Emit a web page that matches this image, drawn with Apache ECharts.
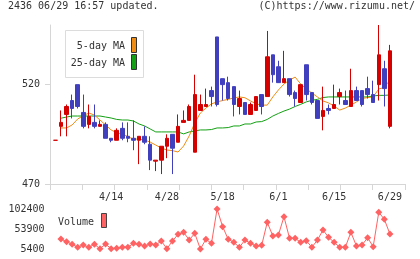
<!DOCTYPE html>
<html>
<head>
<meta charset="utf-8">
<script src="https://cdn.jsdelivr.net/npm/echarts@6/dist/echarts.min.js"></script>
<style>
  html, body { margin: 0; padding: 0; background: #fff; }
  #chart { width: 420px; height: 259px; }
</style>
</head>
<body>
<div id="chart"></div>
<script>
// trading days 3/31 .. 6/29
const dates = [
  '3/31', '4/1', '4/2', '4/3', '4/6', '4/7', '4/8', '4/9', '4/10', '4/13',
  '4/14', '4/15', '4/16', '4/17', '4/20', '4/21', '4/22', '4/23', '4/24', '4/27',
  '4/28', '4/30', '5/1', '5/7', '5/8', '5/11', '5/12', '5/13', '5/14', '5/15',
  '5/18', '5/19', '5/20', '5/21', '5/22', '5/25', '5/26', '5/27', '5/28', '5/29',
  '6/1', '6/2', '6/3', '6/4', '6/5', '6/8', '6/9', '6/10', '6/11', '6/12',
  '6/15', '6/16', '6/17', '6/18', '6/19', '6/22', '6/23', '6/24', '6/25', '6/26',
  '6/29'
];

const opens = [
  492, 499, 505, 512, 520, 506, 500, 501, 499, 500,
  493, 492, 498, 494, 493, 492, 494, 490, 481.5, 482,
  489, 495, 491, 501, 502, 486, 507, 509, 517, 544,
  523, 521, 519, 509, 511, 505, 507, 515, 514, 535,
  529, 521, 523, 516, 511, 530, 516, 512, 504, 508,
  508, 514, 512, 509, 517, 517, 518, 515, 520, 528,
  499
];
const closes = [
  492, 501, 509, 508, 509, 499, 504, 499, 500, 493,
  492, 497, 493, 493, 492, 494, 491, 482, 482, 489,
  493, 488, 499, 502, 509, 515, 510, 510, 514, 510,
  520, 513, 510, 513, 505, 510, 514, 509, 534, 525,
  521, 523, 515, 513, 520, 515, 511, 503, 507, 507,
  510, 516, 510, 517, 512, 510, 515, 511, 535, 518,
  537
];
const lows = [
  492, 494, 494, 503, 508, 498, 498, 498, 499, 493,
  491, 492, 492, 491, 487, 480, 490, 477, 476.5, 475,
  483, 475, 491, 501, 502, 486, 507, 509, 509, 509,
  512, 512, 504, 505, 505, 505, 507, 505, 514, 521,
  521, 521, 514, 509, 511, 512, 510, 503, 497, 505,
  508, 510, 510, 509, 512, 509, 513, 511, 512, 509,
  498
];
const highs = [
  492, 507, 510, 515, 520, 515, 510, 510, 502, 501,
  493, 498, 501, 501, 502, 494, 499, 494, 482, 489,
  495, 495, 505, 507, 510, 525, 515, 518, 519, 544,
  523, 524, 519, 517, 511, 511, 514, 515, 547, 535,
  532, 537, 523, 517, 520, 530, 516, 512, 519, 510,
  520, 518, 517, 528, 519, 517, 524, 522, 550, 532,
  540
];

const ma5 = [
  null, 498.2, 498.2, 499.7, 502.7, 504.4, 505.7, 504.7, 502.2, 499.7,
  497.2, 495.7, 495.2, 493.8, 492.6, 492.6, 492.1, 491.1, 489.6, 488.1,
  487.1, 486.8, 486.1, 489.1, 494.2, 500.7, 505.7, 508.2, 510.3, 511.3,
  512.0, 512.6, 513.3, 513.8, 513.4, 511.8, 510.3, 509.7, 509.7, 513.8,
  517.3, 520.3, 522.3, 523.8, 520.3, 517.8, 515.8, 513.8, 511.8, 510.8,
  509.2, 507.2, 508.2, 509.7, 511.3, 513.0, 513.5, 513.8, 517.8, 518.6,
  522.3
];
const ma25 = [
  null, 503.1, 503.7, 504.2, 504.2, 504.2, 504.2, 504.2, 504.2, 503.7,
  503.2, 502.5, 502.2, 502.2, 501.7, 500.2, 499.2, 497.7, 496.2, 496.2,
  496.2, 496.2, 496.2, 495.2, 496.2, 496.7, 497.2, 497.2, 497.4, 498.2,
  498.2, 498.4, 499.2, 499.2, 500.2, 500.2, 501.2, 501.4, 502.5, 504.2,
  505.5, 506.7, 507.7, 509.0, 510.1, 511.3, 512.1, 512.6, 513.5, 513.8,
  513.8, 513.8, 513.8, 513.8, 513.8, 513.8, 513.8, 514.3, 514.6, 514.6,
  514.8
];

const volumes = [
  null, 29650, 23100, 16800, 9500, 15100, 9500, 16800, 6100, 17500,
  6000, 7100, 9500, 9500, 19200, 16800, 12700, 17500, 15100, 24800,
  6100, 24800, 41000, 45900, 27200, 43400, 5400, 28900, 19200, 102400,
  59500, 28900, 21600, 9500, 27200, 19200, 12700, 14300, 70100, 36900,
  39400, 83700, 31300, 31300, 21600, 25600, 9500, 27200, 51500, 33700,
  21600, 9500, 9500, 45900, 12700, 15100, 32800, 11000, 94400, 77400,
  41800
];

const priceTicks = [470, 520];
const volumeTicks = [5400, 53900, 102400];

const font = 'DejaVu Sans Mono';
const textColor = '#333';
const axisColor = '#d6d6d6';
const upColor = '#d50000';
const downColor = '#4040bf';
const ma5Color = '#f08c14';
const ma25Color = '#14a014';
const volColor = '#ff6262';

const candles = opens.map((o, i) => [o, closes[i], lows[i], highs[i]]);

const chart = echarts.init(document.getElementById('chart'));

const labelStyle = { fontSize: 10, color: textColor, fontFamily: font };
// 数値はカンマ無しで表示
const plain = (v) => String(v);

const option = {
  animation: false,
  backgroundColor: '#fff',
  textStyle: { fontFamily: font },
  title: [
    { text: '2436 06/29 16:57 updated.', left: 8, top: 1, padding: 0,
      textStyle: { fontSize: 10, fontWeight: 'normal', color: textColor, fontFamily: font } },
    { text: '(C)https://www.rizumu.net/', right: 5, top: 1, padding: 0,
      textStyle: { fontSize: 10, fontWeight: 'normal', color: textColor, fontFamily: font } }
  ],
  grid: [
    { left: 50, top: 25, width: 355, height: 159 },
    { left: 52.6, top: 25, width: 340.1, height: 159 },
    { left: 52.6, top: 209, width: 340.1, height: 40 }
  ],
  xAxis: [
    {
      gridIndex: 0, type: 'value', min: 0, max: 11, interval: 1,
      axisLine: { show: true, lineStyle: { color: axisColor } },
      axisTick: { show: true, length: 6, lineStyle: { color: axisColor } },
      axisLabel: { show: false },
      splitLine: { show: false }
    },
    {
      gridIndex: 1, type: 'category', data: dates, boundaryGap: true,
      axisLine: { show: false }, axisTick: { show: false },
      axisLabel: Object.assign({ interval: (i) => i > 0 && i % 10 === 0, margin: 8 }, labelStyle),
      splitLine: { show: false }
    },
    { gridIndex: 2, type: 'category', data: dates, boundaryGap: true, show: false }
  ],
  yAxis: [
    {
      gridIndex: 0, type: 'value', min: 470, max: 550,
      axisLine: { show: true, lineStyle: { color: axisColor } },
      axisTick: { show: true, length: 5, customValues: priceTicks, lineStyle: { color: axisColor } },
      axisLabel: Object.assign({ customValues: priceTicks, margin: 10, formatter: plain }, labelStyle),
      splitLine: { show: false }
    },
    { gridIndex: 1, type: 'value', min: 470, max: 550, show: false },
    {
      gridIndex: 2, type: 'value', min: 5400, max: 102400,
      axisLine: { show: false }, axisTick: { show: false },
      axisLabel: Object.assign({ customValues: volumeTicks, margin: 8, formatter: plain }, labelStyle),
      splitLine: { show: false }
    }
  ],
  series: [
    {
      name: '25-day MA', type: 'line', xAxisIndex: 1, yAxisIndex: 1,
      data: ma25, symbol: 'none', z: 2,
      lineStyle: { color: ma25Color, width: 1 }
    },
    {
      name: '5-day MA', type: 'line', xAxisIndex: 1, yAxisIndex: 1,
      data: ma5, symbol: 'none', z: 2,
      lineStyle: { color: ma5Color, width: 1 }
    },
    {
      name: 'Price', type: 'candlestick', xAxisIndex: 1, yAxisIndex: 1,
      data: candles, barWidth: 4, z: 3,
      itemStyle: {
        color: upColor, color0: downColor,
        borderColor: upColor, borderColor0: downColor, borderWidth: 1
      }
    },
    {
      name: 'Volume', type: 'line', xAxisIndex: 2, yAxisIndex: 2,
      data: volumes, symbol: 'diamond', symbolSize: 7, showAllSymbol: true,
      itemStyle: { color: volColor },
      lineStyle: { color: volColor, width: 1 }
    }
  ],
  graphic: [
    { type: 'rect', shape: { x: 65.5, y: 30.5, width: 78, height: 47 },
      style: { fill: '#fff', stroke: '#dcdcdc', lineWidth: 1 }, z: 10 },
    { type: 'text', x: 125, y: 46, z: 11,
      style: { text: '5-day MA', fill: textColor, font: '10px "DejaVu Sans Mono"', textAlign: 'right', textVerticalAlign: 'middle' } },
    { type: 'text', x: 125, y: 63.5, z: 11,
      style: { text: '25-day MA', fill: textColor, font: '10px "DejaVu Sans Mono"', textAlign: 'right', textVerticalAlign: 'middle' } },
    { type: 'rect', shape: { x: 131.5, y: 37.5, width: 5, height: 15 },
      style: { fill: ma5Color, stroke: '#333', lineWidth: 1 }, z: 11 },
    { type: 'rect', shape: { x: 131.5, y: 54.5, width: 5, height: 15 },
      style: { fill: ma25Color, stroke: '#333', lineWidth: 1 }, z: 11 },
    { type: 'text', x: 58, y: 222.5, z: 11,
      style: { text: 'Volume', fill: textColor, font: '10px "DejaVu Sans Mono"', textAlign: 'left', textVerticalAlign: 'middle' } },
    { type: 'rect', shape: { x: 101.5, y: 213.5, width: 5, height: 14 },
      style: { fill: volColor, stroke: '#444', lineWidth: 1 }, z: 11 }
  ]
};

chart.setOption(option);
</script>
</body>
</html>
